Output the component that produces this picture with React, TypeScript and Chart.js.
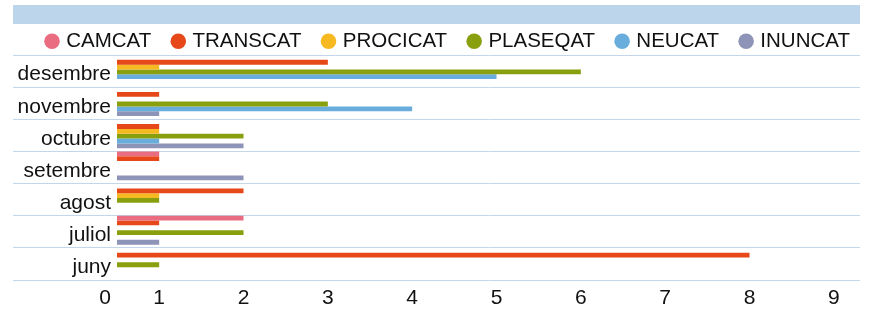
import React, { useEffect, useRef } from 'react';
import { Chart, registerables } from 'chart.js';

Chart.register(...registerables);

const months = ['desembre', 'novembre', 'octubre', 'setembre', 'agost', 'juliol', 'juny'];
const seriesNames = ['CAMCAT', 'TRANSCAT', 'PROCICAT', 'PLASEQAT', 'NEUCAT', 'INUNCAT'];
const camcat = [0, 0, 0, 1, 0, 2, 0];
const transcat = [3, 1, 1, 1, 2, 1, 8];
const procicat = [1, 0, 1, 0, 1, 0, 0];
const plaseqat = [6, 3, 2, 0, 1, 2, 1];
const neucat = [5, 4, 1, 0, 0, 0, 0];
const inuncat = [0, 1, 2, 2, 0, 1, 0];
const seriesColors = ['#ea6c80', '#e64819', '#f7b922', '#8a9f0e', '#69addc', '#8e94b7'];
const xTickValues = [0, 1, 2, 3, 4, 5, 6, 7, 8, 9];
const xTickLabels = ['0', '1', '2', '3', '4', '5', '6', '7', '8', '9'];

const FONT = '"Liberation Sans", Arial, Helvetica, sans-serif';
const GRID = '#c3d6ea';
const TEXT = '#111111';
const CAT_PCT = 0.9;

const bandPlugin = {
  id: 'band',
  beforeDraw(chart: any) {
    const ctx = chart.ctx;
    const left = chart.scales.y.left;
    ctx.save();
    ctx.fillStyle = '#bdd5eb';
    ctx.fillRect(left, 5, chart.chartArea.right - left, 19);
    ctx.restore();
  },
};

const legendPlace = {
  id: 'legendPlace',
  afterLayout(chart: any) {
    const lg = chart.legend;
    if (!lg) return;
    lg.left = chart.scales.y.left + 12;
    lg.right = chart.width + 200;
  },
};

// group bars flush with the top of each category band, as in the reference
const barAlign = {
  id: 'barAlign',
  afterDatasetsUpdate(chart: any) {
    const ys = chart.scales.y;
    const band = (ys.bottom - ys.top) / months.length;
    const shift = (band * (1 - CAT_PCT)) / 2;
    chart.data.datasets.forEach((_: any, i: number) => {
      const meta = chart.getDatasetMeta(i);
      meta.data.forEach((el: any) => {
        el.y -= shift;
      });
    });
  },
};

const zeroLabel = {
  id: 'zeroLabel',
  afterDraw(chart: any) {
    const xs = chart.scales.x;
    const ctx = chart.ctx;
    ctx.save();
    ctx.font = `21px ${FONT}`;
    ctx.fillStyle = TEXT;
    ctx.textAlign = 'center';
    ctx.textBaseline = 'middle';
    ctx.fillText(xTickLabels[0], xs.left - 12, xs.top + 6 + 12.6);
    ctx.restore();
  },
};

export default function App() {
  const ref = useRef<HTMLCanvasElement | null>(null);

  useEffect(() => {
    if (!ref.current) return;
    const values = [camcat, transcat, procicat, plaseqat, neucat, inuncat];
    const chart = new Chart(ref.current, {
      type: 'bar',
      data: {
        labels: months,
        datasets: seriesNames.map((name, i) => ({
          label: name,
          data: values[i],
          backgroundColor: seriesColors[i],
          borderWidth: 0,
          categoryPercentage: CAT_PCT,
          barPercentage: 1,
          clip: 0,
        })),
      },
      options: {
        indexAxis: 'y',
        responsive: false,
        animation: false,
        devicePixelRatio: 1,
        layout: { padding: { top: 8, left: 13, right: 11, bottom: 0 } },
        plugins: {
          tooltip: { enabled: false },
          title: { display: false },
          legend: {
            position: 'top',
            align: 'start',
            maxHeight: 47,
            labels: {
              usePointStyle: true,
              pointStyle: 'circle',
              boxWidth: 8,
              boxHeight: 11,
              padding: 23,
              color: TEXT,
              font: { family: FONT, size: 20.5 },
            },
          },
        },
        scales: {
          x: {
            type: 'linear',
            min: 0.5,
            max: 9.31,
            grid: { display: false, drawTicks: false },
            border: { display: false },
            afterBuildTicks: (s: any) => {
              s.ticks = xTickValues.filter((v) => v >= s.min).map((v) => ({ value: v }));
            },
            afterFit: (s: any) => {
              s.height = 31;
            },
            ticks: {
              autoSkip: false,
              maxRotation: 0,
              padding: 6,
              color: TEXT,
              font: { family: FONT, size: 21 },
              callback: (v: any) => xTickLabels[xTickValues.indexOf(Number(v))],
            },
          },
          y: {
            type: 'category',
            grid: { color: GRID, lineWidth: 1, tickLength: 104, offset: true, drawTicks: true },
            border: { display: false },
            afterFit: (s: any) => {
              s.width = 104;
            },
            ticks: {
              autoSkip: false,
              padding: -98,
              labelOffset: 3.5,
              color: TEXT,
              font: { family: FONT, size: 21 },
            },
          },
        },
      },
      plugins: [bandPlugin, legendPlace, barAlign, zeroLabel],
    } as any);
    return () => chart.destroy();
  }, []);

  return (
    <div style={{ position: 'fixed', left: 0, top: 0, width: 871, height: 311, background: '#fff' }}>
      <canvas ref={ref} width={871} height={311} style={{ display: 'block' }} />
    </div>
  );
}
